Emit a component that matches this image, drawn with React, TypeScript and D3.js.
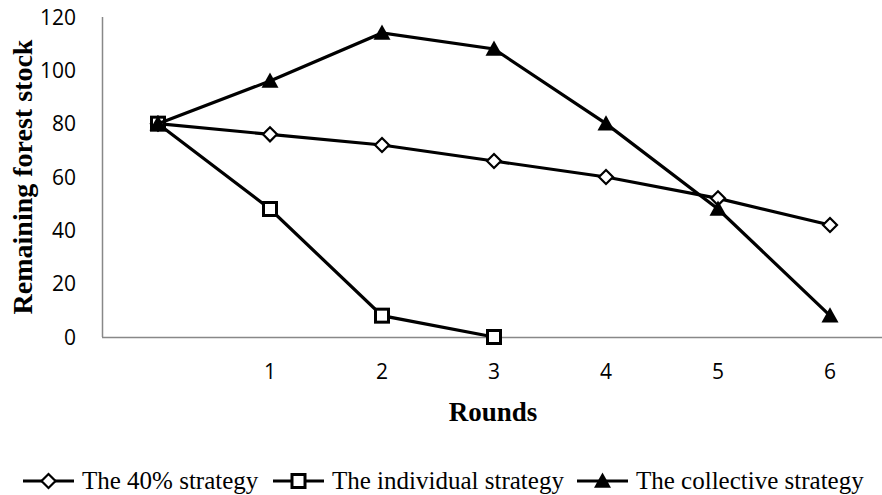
import React from 'react';
import * as d3 from 'd3';

const rounds = ['', '1', '2', '3', '4', '5', '6'];
const fortyPct = [80, 76, 72, 66, 60, 52, 42];
const individual: (number | null)[] = [80, 48, 8, 0, null, null, null];
const collective = [80, 96, 114, 108, 80, 48, 8];
const yTicks = [0, 20, 40, 60, 80, 100, 120];
const seriesNames = ['The 40% strategy', 'The individual strategy', 'The collective strategy'];

const W = 882;
const H = 495;

const Marker: React.FC<{ kind: string; x: number; y: number }> = ({ kind, x, y }) => {
  if (kind === 'diamond') {
    const s = 7;
    return (
      <path
        d={`M${x},${y - s}L${x + s},${y}L${x},${y + s}L${x - s},${y}Z`}
        fill="#fff"
        stroke="#000"
        strokeWidth={2.2}
      />
    );
  }
  if (kind === 'square') {
    const s = 6.5;
    return <rect x={x - s} y={y - s} width={2 * s} height={2 * s} fill="#fff" stroke="#000" strokeWidth={3} />;
  }
  const s = 8.5;
  return <path d={`M${x},${y - s}L${x + s},${y + s * 0.8}L${x - s},${y + s * 0.8}Z`} fill="#000" />;
};

export default function App() {
  const x = d3.scaleBand<string>().domain(rounds.map((_, i) => String(i))).range([102, 886]);
  const y = d3.scaleLinear().domain([0, 120]).range([337, 17]);
  const cx = (i: number) => (x(String(i)) as number) + x.bandwidth() / 2;

  const line = d3
    .line<number | null>()
    .defined((d) => d !== null)
    .x((_, i) => cx(i))
    .y((d) => y(d as number));

  const series = [
    { name: seriesNames[0], data: fortyPct as (number | null)[], kind: 'diamond' },
    { name: seriesNames[1], data: individual, kind: 'square' },
    { name: seriesNames[2], data: collective as (number | null)[], kind: 'triangle' },
  ];

  const legendX = [23, 273, 577];

  return (
    <svg width={W} height={H} style={{ position: 'absolute', left: 0, top: 0, background: '#fff' }}>
      {/* axes */}
      <line x1={102.5} x2={102.5} y1={17} y2={337} stroke="#888" strokeWidth={1.5} />
      <line x1={102} x2={882} y1={337.5} y2={337.5} stroke="#888" strokeWidth={1.5} />
      {yTicks.map((t) => (
        <text
          key={t}
          x={76}
          y={y(t) + 7.5}
          textAnchor="end"
          fontFamily="Open Sans, sans-serif"
          fontSize={21}
          fill="#000"
        >
          {t}
        </text>
      ))}
      {rounds.map((r, i) => (
        <text
          key={i}
          x={cx(i)}
          y={379}
          textAnchor="middle"
          fontFamily="Open Sans, sans-serif"
          fontSize={21}
          fill="#000"
        >
          {r}
        </text>
      ))}
      <text
        x={493}
        y={421}
        textAnchor="middle"
        fontFamily="Liberation Serif, serif"
        fontWeight="bold"
        fontSize={27}
      >
        Rounds
      </text>
      <text
        transform={`translate(32,177) rotate(-90)`}
        textAnchor="middle"
        fontFamily="Liberation Serif, serif"
        fontWeight="bold"
        fontSize={28}
      >
        Remaining forest stock
      </text>

      {/* series */}
      {series.map((s) => (
        <g key={s.name}>
          <path d={line(s.data) || ''} fill="none" stroke="#000" strokeWidth={3.2} />
          {s.data.map((d, i) =>
            d === null ? null : <Marker key={i} kind={s.kind} x={cx(i)} y={y(d)} />
          )}
        </g>
      ))}

      {/* legend */}
      {series.map((s, i) => (
        <g key={s.name} transform={`translate(${legendX[i]},481)`}>
          <line x1={0} x2={51} y1={0} y2={0} stroke="#000" strokeWidth={3.2} />
          <Marker kind={s.kind} x={25.5} y={0} />
          <text x={59} y={8} fontFamily="Liberation Serif, serif" fontSize={25}>
            {s.name}
          </text>
        </g>
      ))}
    </svg>
  );
}
